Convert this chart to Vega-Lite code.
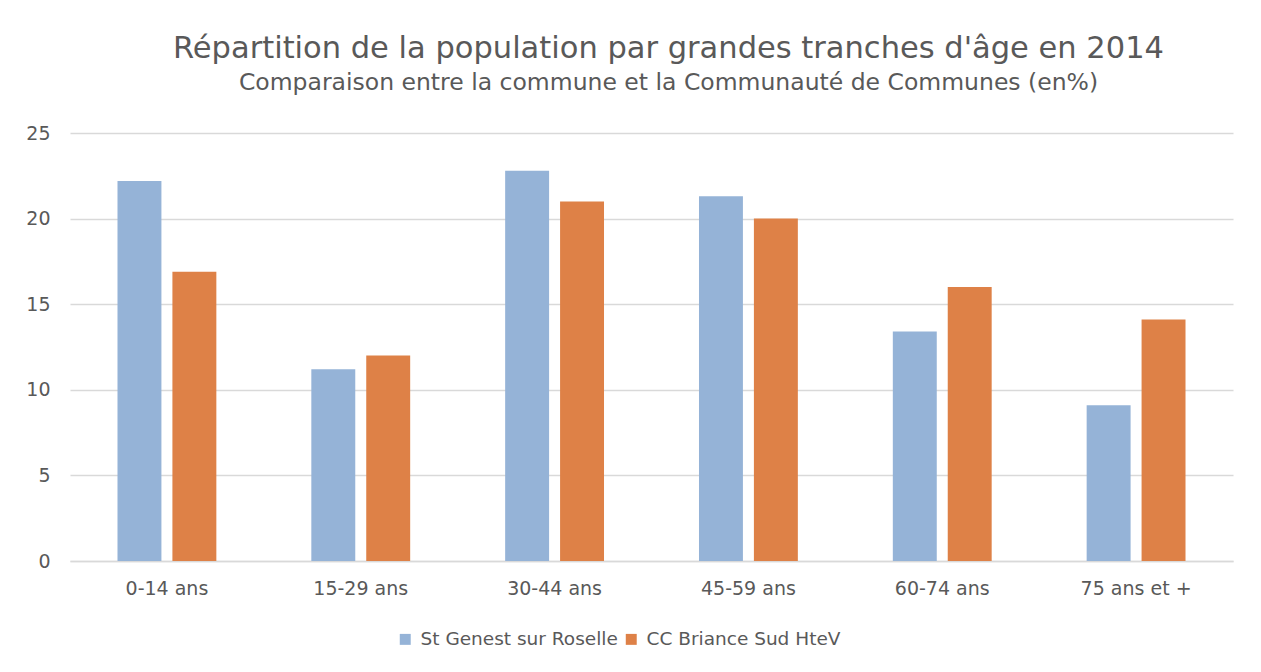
{
  "$schema": "https://vega.github.io/schema/vega-lite/v6.json",
  "autosize": {"type": "none"},
  "width": 1163,
  "height": 428,
  "padding": {"left": 70, "top": 133, "right": 28, "bottom": 111},
  "background": "white",
  "title": {
    "text": "Répartition de la population par grandes tranches d'âge en 2014",
    "subtitle": "Comparaison entre la commune et la Communauté de Communes (en%)",
    "anchor": "middle",
    "frame": "group",
    "dx": 17,
    "offset": 30,
    "font": "DejaVu Sans",
    "fontSize": 30.5,
    "fontWeight": "normal",
    "color": "#595959",
    "subtitleFont": "DejaVu Sans",
    "subtitleFontSize": 23.5,
    "subtitleColor": "#595959",
    "subtitlePadding": 6
  },
  "data": {
    "values": [
      {"age": "0-14 ans", "serie": "St Genest sur Roselle", "valeur": 22.2},
      {"age": "0-14 ans", "serie": "CC Briance Sud HteV", "valeur": 16.9},
      {"age": "15-29 ans", "serie": "St Genest sur Roselle", "valeur": 11.2},
      {"age": "15-29 ans", "serie": "CC Briance Sud HteV", "valeur": 12.0},
      {"age": "30-44 ans", "serie": "St Genest sur Roselle", "valeur": 22.8},
      {"age": "30-44 ans", "serie": "CC Briance Sud HteV", "valeur": 21.0},
      {"age": "45-59 ans", "serie": "St Genest sur Roselle", "valeur": 21.3},
      {"age": "45-59 ans", "serie": "CC Briance Sud HteV", "valeur": 20.0},
      {"age": "60-74 ans", "serie": "St Genest sur Roselle", "valeur": 13.4},
      {"age": "60-74 ans", "serie": "CC Briance Sud HteV", "valeur": 16.0},
      {"age": "75 ans et +", "serie": "St Genest sur Roselle", "valeur": 9.1},
      {"age": "75 ans et +", "serie": "CC Briance Sud HteV", "valeur": 14.1}
    ]
  },
  "mark": {"type": "bar"},
  "encoding": {
    "x": {
      "field": "age",
      "type": "nominal",
      "sort": null,
      "scale": {"paddingInner": 0.49, "paddingOuter": 0.245},
      "axis": {
        "title": null,
        "labelAngle": 0,
        "labelFont": "DejaVu Sans",
        "labelFontSize": 19,
        "labelColor": "#595959",
        "labelPadding": 18,
        "ticks": false,
        "domainColor": "#D9D9D9",
        "domainWidth": 1.5
      }
    },
    "xOffset": {
      "field": "serie",
      "type": "nominal",
      "sort": ["St Genest sur Roselle", "CC Briance Sud HteV"],
      "scale": {"paddingInner": 0.2, "paddingOuter": 0}
    },
    "y": {
      "field": "valeur",
      "type": "quantitative",
      "scale": {"domain": [0, 25]},
      "axis": {
        "title": null,
        "values": [0, 5, 10, 15, 20, 25],
        "labelFont": "DejaVu Sans",
        "labelFontSize": 19,
        "labelColor": "#595959",
        "labelPadding": 20,
        "ticks": false,
        "domain": false,
        "gridColor": "#D9D9D9",
        "gridWidth": 1.5
      }
    },
    "color": {
      "field": "serie",
      "type": "nominal",
      "sort": ["St Genest sur Roselle", "CC Briance Sud HteV"],
      "scale": {
        "domain": ["St Genest sur Roselle", "CC Briance Sud HteV"],
        "range": ["#95B3D7", "#DE8147"]
      },
      "legend": {
        "title": null,
        "orient": "none",
        "direction": "horizontal",
        "legendX": 326,
        "legendY": 497,
        "symbolType": "square",
        "symbolSize": 120,
        "symbolStrokeWidth": 0,
        "labelFont": "DejaVu Sans",
        "labelFontSize": 18.5,
        "labelColor": "#595959",
        "labelLimit": 0,
        "columnPadding": 4,
        "labelOffset": 6
      }
    }
  },
  "config": {
    "view": {"stroke": null},
    "bar": {"stroke": "white", "strokeWidth": 0}
  }
}
